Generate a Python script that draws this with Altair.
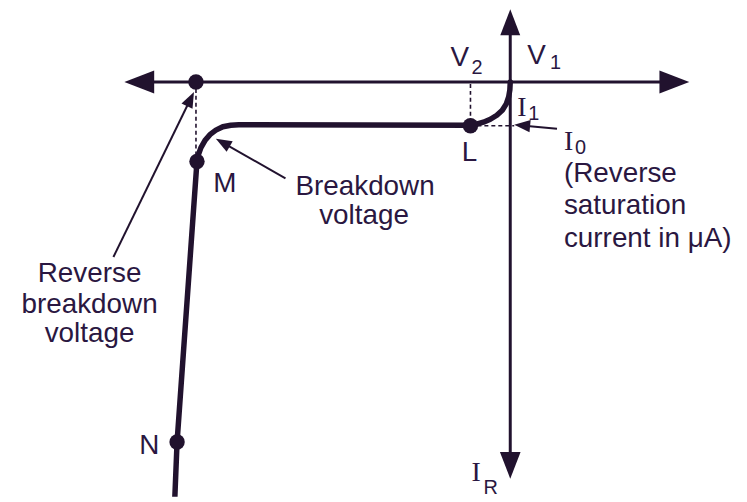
import math
import altair as alt
import pandas as pd

INK = "#21122e"
TEXT = "#2a1741"

# Reference-picture coordinates (x to the right, y downward), origin of axes at (513, 81)
# Reverse characteristic curve: origin -> knee -> L -> flat -> breakdown knee -> M -> N
curve_x = [513, 512.6, 511.4, 509, 505, 499.5, 493, 486, 479, 473,
           240, 232, 224, 217, 211, 206, 202, 199.5, 198, 178, 175.5]
curve_y = [81, 89, 96, 103, 109.5, 114.5, 118.5, 121.5, 123.5, 124.5,
           124, 124.5, 126, 129.5, 134, 140, 147, 154, 161, 443, 505]

# Marked points (breakdown voltage on axis, M, L, N)
dot_x = [197, 198, 473, 178]
dot_y = [81, 161, 125, 443]

# Axes: (tail, tip) of each arrow
axis_tail_x = [513, 513, 513, 513]
axis_tail_y = [81, 81, 81, 81]
axis_tip_x = [693, 125, 513, 513]
axis_tip_y = [81, 81, 8, 480]
axis_head_len = [30, 30, 26, 27]

# Dashed projection lines
dash_x = [197, 473, 473]
dash_y = [88, 83, 125]
dash_x2 = [197, 473, 517]
dash_y2 = [156, 121, 125]

# Pointer arrows (tail -> tip)
ptr_tail_x = [114, 287, 560]
ptr_tail_y = [257, 178, 128]
ptr_tip_x = [195, 217, 517]
ptr_tip_y = [91, 138, 124]

# Text
label_center = ["Reverse", "breakdown", "voltage", "Breakdown", "voltage", "L", "M", "N"]
label_center_x = [90, 90, 90, 367, 366, 472, 226, 150]
label_center_y = [282, 313, 342, 195, 224, 160, 192, 455]

label_left = ["(Reverse", "saturation", "current in \u03bcA)", "V", "V"]
label_left_x = [567, 567, 567, 453, 530]
label_left_y = [182, 214, 247, 65, 63]

label_serif = ["I", "I", "I"]
label_serif_x = [520, 567, 474]
label_serif_y = [115, 149, 482]

sub_text = ["2", "1", "1", "0", "R"]
sub_x = [474, 553, 531, 578, 486]
sub_y = [73, 68, 119, 153, 495]

ARROW = "M1,0 L-1,-0.77 L-1,0.77 Z"


def heads(tail_x, tail_y, tip_x, tip_y, lengths):
    rows_h, rows_l = [], []
    for tx, ty, px, py, L in zip(tail_x, tail_y, tip_x, tip_y, lengths):
        dx, dy = px - tx, py - ty
        d = math.hypot(dx, dy)
        ux, uy = dx / d, dy / d
        ang = math.degrees(math.atan2(dy, dx)) % 360
        rows_h.append({"x": px - ux * L / 2, "y": py - uy * L / 2,
                       "angle": ang, "size": L * L})
        rows_l.append({"x": tx, "y": ty, "x2": px - ux * (L - 3), "y2": py - uy * (L - 3)})
    return pd.DataFrame(rows_h), pd.DataFrame(rows_l)


axis_heads, axis_lines = heads(axis_tail_x, axis_tail_y, axis_tip_x, axis_tip_y, axis_head_len)
ptr_heads, ptr_lines = heads(ptr_tail_x, ptr_tail_y, ptr_tip_x, ptr_tip_y, [16, 16, 16])

curve = pd.DataFrame({"x": curve_x, "y": curve_y, "i": range(len(curve_x))})
dots = pd.DataFrame({"x": dot_x, "y": dot_y})
dashes = pd.DataFrame({"x": dash_x, "y": dash_y, "x2": dash_x2, "y2": dash_y2})
tc = pd.DataFrame({"t": label_center, "x": label_center_x, "y": label_center_y})
tl = pd.DataFrame({"t": label_left, "x": label_left_x, "y": label_left_y})
ts = pd.DataFrame({"t": label_serif, "x": label_serif_x, "y": label_serif_y})
tsub = pd.DataFrame({"t": sub_text, "x": sub_x, "y": sub_y})

X = alt.X("x:Q", scale=alt.Scale(domain=[8, 743], nice=False, zero=False), axis=None)
Y = alt.Y("y:Q", scale=alt.Scale(domain=[8, 498], nice=False, zero=False, reverse=True), axis=None)

axis_rule = alt.Chart(axis_lines).mark_rule(color=INK, strokeWidth=3).encode(
    x=X, y=Y, x2="x2:Q", y2="y2:Q")
axis_head = alt.Chart(axis_heads).mark_point(shape=ARROW, filled=True, opacity=1, color=INK, strokeWidth=0).encode(
    x=X, y=Y, angle=alt.Angle("angle:Q", scale=None), size=alt.Size("size:Q", scale=None))
dash_rule = alt.Chart(dashes).mark_rule(color=INK, strokeWidth=1.6, strokeDash=[4, 3]).encode(
    x=X, y=Y, x2="x2:Q", y2="y2:Q")
ptr_rule = alt.Chart(ptr_lines).mark_rule(color=INK, strokeWidth=2).encode(
    x=X, y=Y, x2="x2:Q", y2="y2:Q")
ptr_head = alt.Chart(ptr_heads).mark_point(shape=ARROW, filled=True, opacity=1, color=INK, strokeWidth=0).encode(
    x=X, y=Y, angle=alt.Angle("angle:Q", scale=None), size=alt.Size("size:Q", scale=None))
curve_line = alt.Chart(curve).mark_line(color=INK, strokeWidth=5.5, strokeCap="round", strokeJoin="round", clip=True).encode(
    x=X, y=Y, order="i:Q")
dot_mark = alt.Chart(dots).mark_circle(color=INK, opacity=1, size=240).encode(x=X, y=Y)

txt_c = alt.Chart(tc).mark_text(font="Liberation Sans", fontSize=28, align="center", baseline="alphabetic", color=TEXT).encode(
    x=X, y=Y, text="t:N")
txt_l = alt.Chart(tl).mark_text(font="Liberation Sans", fontSize=28, align="left", baseline="alphabetic", color=TEXT).encode(
    x=X, y=Y, text="t:N")
txt_s = alt.Chart(ts).mark_text(font="Liberation Serif", fontSize=28, align="left", baseline="alphabetic", color=TEXT).encode(
    x=X, y=Y, text="t:N")
txt_sub = alt.Chart(tsub).mark_text(font="Liberation Sans", fontSize=20, align="left", baseline="alphabetic", color=TEXT).encode(
    x=X, y=Y, text="t:N")

chart = alt.layer(
    dash_rule, axis_rule, axis_head, ptr_rule, ptr_head, curve_line, dot_mark,
    txt_c, txt_l, txt_s, txt_sub
).properties(
    width=735, height=490, padding=0, autosize=alt.AutoSizeParams(type="none"), background="white"
).configure_view(stroke=None)

chart.save("out.html", embed_options={"renderer": "svg", "actions": False})
